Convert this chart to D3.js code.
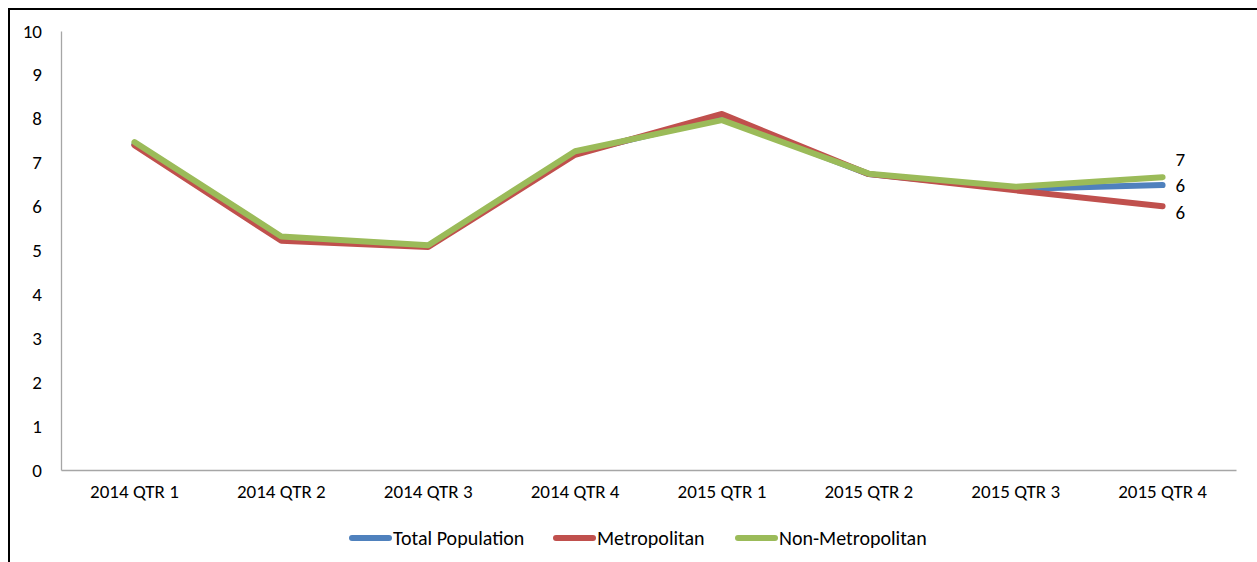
<!DOCTYPE html>
<html>
<head>
<meta charset="utf-8">
<script src="https://cdn.jsdelivr.net/npm/d3@7"></script>
<style>
  body { margin: 0; background: #fff; }
  text { font-family: Carlito, Calibri, Lato, "Open Sans", sans-serif; fill: #000; }
</style>
</head>
<body>
<div id="chart"></div>
<script>
// quarter labels along the x axis
var quarters = ["2014 QTR 1", "2014 QTR 2", "2014 QTR 3", "2014 QTR 4",
                "2015 QTR 1", "2015 QTR 2", "2015 QTR 3", "2015 QTR 4"];
// series values
var totalPopulation = [7.42, 5.27, 5.10, 7.22, 8.03, 6.74, 6.40, 6.49];
var metropolitan    = [7.40, 5.22, 5.08, 7.18, 8.11, 6.74, 6.37, 6.01];
var nonMetropolitan = [7.47, 5.32, 5.12, 7.26, 7.97, 6.75, 6.45, 6.67];
var seriesNames = ["Total Population", "Metropolitan", "Non-Metropolitan"];
var yTicks = [0, 1, 2, 3, 4, 5, 6, 7, 8, 9, 10];

var width = 1257, height = 562;
var margin = {top: 31, right: 21, bottom: 92, left: 61};

var colorPalette = ["#4f81bd", "#c0504d", "#9bbb59"];
// small offsets for the end labels so they do not overlap (as in the source)
var labelShift = [1, 7, -17];

var svg = d3.select("#chart").append("svg")
    .attr("width", width)
    .attr("height", height);

// outer frame (partly cropped in the original)
svg.append("path")
    .attr("d", "M9,562 V9 H1257")
    .attr("fill", "none")
    .attr("stroke", "#000")
    .attr("stroke-width", 2);

var xScale = d3.scaleBand()
    .domain(quarters)
    .range([margin.left, width - margin.right]);

var yScale = d3.scaleLinear()
    .domain([0, 10])
    .range([height - margin.bottom, margin.top]);

// y axis
var yAxis = d3.axisLeft(yScale).tickValues(yTicks).tickSize(0).tickPadding(19);
var yG = svg.append("g")
    .attr("class", "axis y-axis")
    .attr("transform", "translate(" + margin.left + ",0)")
    .call(yAxis);
yG.select(".domain").attr("stroke", "#a6a6a6").attr("stroke-width", 1.3);
yG.selectAll("text").style("font-size", "19px");

// x axis
var xAxis = d3.axisBottom(xScale).tickSize(0).tickPadding(15);
var xG = svg.append("g")
    .attr("class", "axis x-axis")
    .attr("transform", "translate(0," + yScale(0) + ")")
    .call(xAxis);
xG.select(".domain").attr("stroke", "#a6a6a6").attr("stroke-width", 1.3);
xG.selectAll("text").style("font-size", "19px");

var allSeries = [totalPopulation, metropolitan, nonMetropolitan];

var line = d3.line()
    .x(function(d, i) { return xScale(quarters[i]) + xScale.bandwidth() / 2; })
    .y(function(d) { return yScale(d); });

svg.selectAll(".series")
    .data(allSeries)
    .enter()
    .append("path")
    .attr("class", "series")
    .attr("d", line)
    .attr("fill", "none")
    .attr("stroke", function(d, i) { return colorPalette[i]; })
    .attr("stroke-width", 6)
    .attr("stroke-linejoin", "round")
    .attr("stroke-linecap", "round");

// value labels at the last quarter
var last = quarters.length - 1;
svg.selectAll(".endLabel")
    .data(allSeries)
    .enter()
    .append("text")
    .attr("class", "endLabel")
    .attr("x", xScale(quarters[last]) + xScale.bandwidth() / 2 + 13)
    .attr("y", function(d, i) { return yScale(d[last]) + labelShift[i] + 6; })
    .style("font-size", "19px")
    .text(function(d) { return d3.format(".0f")(d[last]); });

// legend
var legendX = [349, 553, 735];
var legend = svg.append("g").attr("class", "legend");
seriesNames.forEach(function(name, i) {
    legend.append("line")
        .attr("x1", legendX[i] + 3).attr("x2", legendX[i] + 40)
        .attr("y1", 538).attr("y2", 538)
        .attr("stroke", colorPalette[i])
        .attr("stroke-width", 6)
        .attr("stroke-linecap", "round");
    legend.append("text")
        .attr("x", legendX[i] + 44)
        .attr("y", 545)
        .style("font-size", "20px")
        .text(name);
});
</script>
</body>
</html>
